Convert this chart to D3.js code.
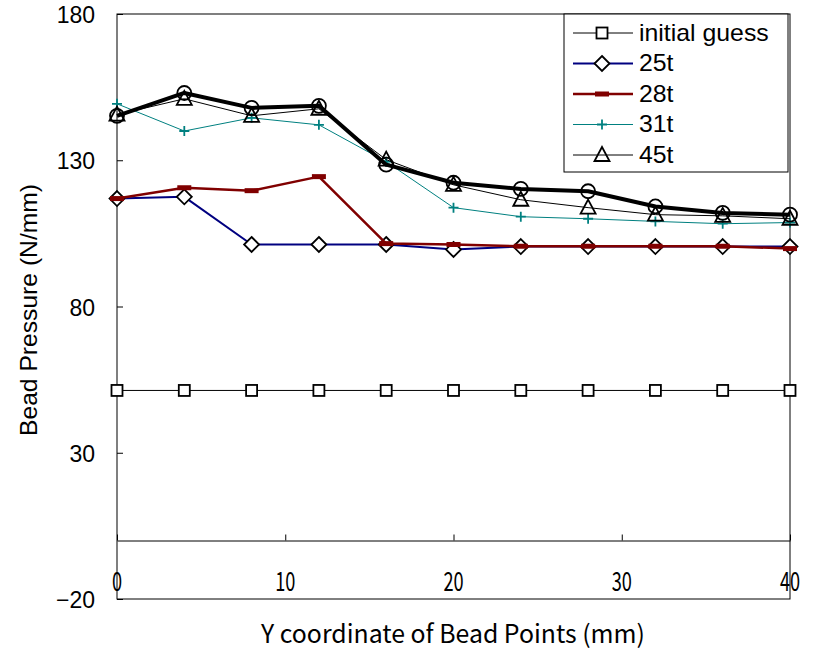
<!DOCTYPE html>
<html>
<head>
<meta charset="utf-8">
<script src="https://cdn.jsdelivr.net/npm/d3@7"></script>
<style>
  body { margin: 0; background: #fff; }
  text { fill: #000; }
</style>
</head>
<body>
<script>
var width = 816;
var height = 654;

// data
var xValues = [0, 4, 8, 12, 16, 20, 24, 28, 32, 36, 40];
var initialGuess = [51.3, 51.3, 51.3, 51.3, 51.3, 51.3, 51.3, 51.3, 51.3, 51.3, 51.3];
var t25 = [116.9, 117.5, 101.2, 101.2, 101.2, 99.5, 100.5, 100.5, 100.5, 100.5, 100.5];
var t28 = [116.9, 120.6, 119.6, 124.4, 101.5, 101.2, 100.6, 100.6, 100.6, 100.6, 99.8];
var t31 = [149.3, 140.0, 144.5, 142.1, 129.5, 113.8, 110.7, 110.0, 109.1, 108.3, 108.7];
var t45 = [145.6, 151.0, 145.2, 147.6, 130.2, 121.6, 116.5, 113.8, 111.4, 111.0, 110.0];
var finalRes = [145.2, 153.0, 147.9, 148.6, 128.5, 122.3, 120.2, 119.4, 114.2, 112.0, 111.4];

var xTicks = [0, 10, 20, 30, 40];
var yTicks = [180, 130, 80, 30, -20];

var series = [
  { name: "initial guess", values: initialGuess, color: "#000", width: 1, marker: "square", legend: true },
  { name: "25t", values: t25, color: "#000080", width: 2, marker: "diamond", legend: true },
  { name: "28t", values: t28, color: "#800000", width: 2.5, marker: "bar", legend: true },
  { name: "31t", values: t31, color: "#008080", width: 1, marker: "plus", legend: true },
  { name: "45t", values: t45, color: "#000", width: 1, marker: "triangle", legend: true },
  { name: "final", values: finalRes, color: "#000", width: 4, marker: "circle", legend: false }
];

var plotLeft = 117, plotRight = 790, plotTop = 14, plotBottom = 599;

var x = d3.scaleLinear().domain([0, 40]).range([plotLeft, plotRight]);
var y = d3.scaleLinear().domain([-20, 180]).range([plotBottom, plotTop]);

var svg = d3.select("body").append("svg")
  .attr("width", width)
  .attr("height", height);

// frame
svg.append("rect")
  .attr("x", plotLeft).attr("y", plotTop)
  .attr("width", plotRight - plotLeft).attr("height", plotBottom - plotTop)
  .attr("fill", "none").attr("stroke", "#000").attr("stroke-width", 1);

// x axis on y = 0, ticks pointing up
var xAxis = svg.append("g")
  .attr("transform", "translate(0," + y(0) + ")")
  .call(d3.axisTop(x).tickValues(xTicks).tickSize(6).tickSizeOuter(0).tickFormat(""));
xAxis.select(".domain").attr("stroke", "#000");
xAxis.selectAll("line").attr("stroke", "#000");

svg.selectAll(".xlab").data(xTicks).enter().append("text")
  .attr("class", "xlab")
  .attr("x", function (d) { return x(d); })
  .attr("y", 591)
  .attr("text-anchor", "middle")
  .style("font-family", "'Noto Sans CJK JP', sans-serif")
  .style("font-size", "26px")
  .attr("transform", function (d) { return "translate(" + x(d) + ",0) scale(0.7,1) translate(" + (-x(d)) + ",0)"; })
  .text(function (d) { return d; });

// y axis, ticks pointing right
var yAxis = svg.append("g")
  .attr("transform", "translate(" + plotLeft + ",0)")
  .call(d3.axisRight(y).tickValues(yTicks).tickSize(6).tickSizeOuter(0).tickFormat(""));
yAxis.select(".domain").remove();
yAxis.selectAll("line").attr("stroke", "#000");

svg.selectAll(".ylab").data(yTicks).enter().append("text")
  .attr("class", "ylab")
  .attr("x", 95)
  .attr("y", function (d) { return y(d) + 9; })
  .attr("text-anchor", "end")
  .style("font-family", "'Liberation Sans', Arial, sans-serif")
  .style("font-size", "23px")
  .text(function (d) { return d < 0 ? "\u2212" + Math.abs(d) : d; });

// axis titles
svg.append("text")
  .attr("x", 453).attr("y", 643)
  .attr("text-anchor", "middle")
  .style("font-family", "'Noto Sans CJK JP', sans-serif")
  .style("font-size", "25px")
  .attr("textLength", 384)
  .attr("lengthAdjust", "spacingAndGlyphs")
  .text("Y coordinate of Bead Points (mm)");

svg.append("text")
  .attr("transform", "translate(37,310) rotate(-90)")
  .attr("text-anchor", "middle")
  .style("font-family", "'Liberation Sans', Arial, sans-serif")
  .style("font-size", "24px")
  .attr("textLength", 252)
  .attr("lengthAdjust", "spacingAndGlyphs")
  .text("Bead Pressure (N/mm)");

function drawMarker(g, type, cx, cy, color) {
  if (type === "square") {
    g.append("rect").attr("x", cx - 5.5).attr("y", cy - 5.5).attr("width", 11).attr("height", 11)
      .attr("fill", "#fff").attr("stroke", "#000").attr("stroke-width", 1.8);
  } else if (type === "diamond") {
    g.append("path").attr("d", "M" + cx + "," + (cy - 7.5) + "L" + (cx + 7.5) + "," + cy + "L" + cx + "," + (cy + 7.5) + "L" + (cx - 7.5) + "," + cy + "Z")
      .attr("fill", "#fff").attr("stroke", "#000").attr("stroke-width", 1.8);
  } else if (type === "bar") {
    g.append("rect").attr("x", cx - 7).attr("y", cy - 2.5).attr("width", 14).attr("height", 5)
      .attr("fill", color);
  } else if (type === "plus") {
    g.append("path").attr("d", "M" + (cx - 5) + "," + cy + "H" + (cx + 5) + "M" + cx + "," + (cy - 5) + "V" + (cy + 5))
      .attr("stroke", color).attr("stroke-width", 1.8).attr("fill", "none");
  } else if (type === "triangle") {
    g.append("path").attr("d", "M" + cx + "," + (cy - 8) + "L" + (cx + 7.5) + "," + (cy + 6) + "L" + (cx - 7.5) + "," + (cy + 6) + "Z")
      .attr("fill", "none").attr("stroke", "#000").attr("stroke-width", 1.8);
  } else if (type === "circle") {
    g.append("circle").attr("cx", cx).attr("cy", cy).attr("r", 7)
      .attr("fill", "none").attr("stroke", "#000").attr("stroke-width", 1.8);
  }
}

var line = d3.line()
  .x(function (d, i) { return x(xValues[i]); })
  .y(function (d) { return y(d); });

series.forEach(function (s) {
  var g = svg.append("g");
  g.append("path")
    .attr("d", line(s.values))
    .attr("fill", "none")
    .attr("stroke", s.color)
    .attr("stroke-width", s.width)
    .attr("stroke-linejoin", "round");
  s.values.forEach(function (v, i) {
    drawMarker(g, s.marker, x(xValues[i]), y(v), s.color);
  });
});

// legend
var lg = svg.append("g");
lg.append("rect")
  .attr("x", 564).attr("y", 14).attr("width", 224).attr("height", 158)
  .attr("fill", "#fff").attr("stroke", "#000").attr("stroke-width", 1);

series.filter(function (s) { return s.legend; }).forEach(function (s, i) {
  var ly = 33 + i * 30.5;
  lg.append("line")
    .attr("x1", 573).attr("x2", 633).attr("y1", ly).attr("y2", ly)
    .attr("stroke", s.color).attr("stroke-width", s.width);
  drawMarker(lg, s.marker, 602, ly, s.color);
  lg.append("text")
    .attr("x", 639).attr("y", ly + 8)
    .style("font-family", "'Liberation Sans', Arial, sans-serif")
    .style("font-size", "23px")
    .attr("transform", "translate(639,0) scale(1.08,1) translate(-639,0)")
    .text(s.name);
});
</script>
</body>
</html>
